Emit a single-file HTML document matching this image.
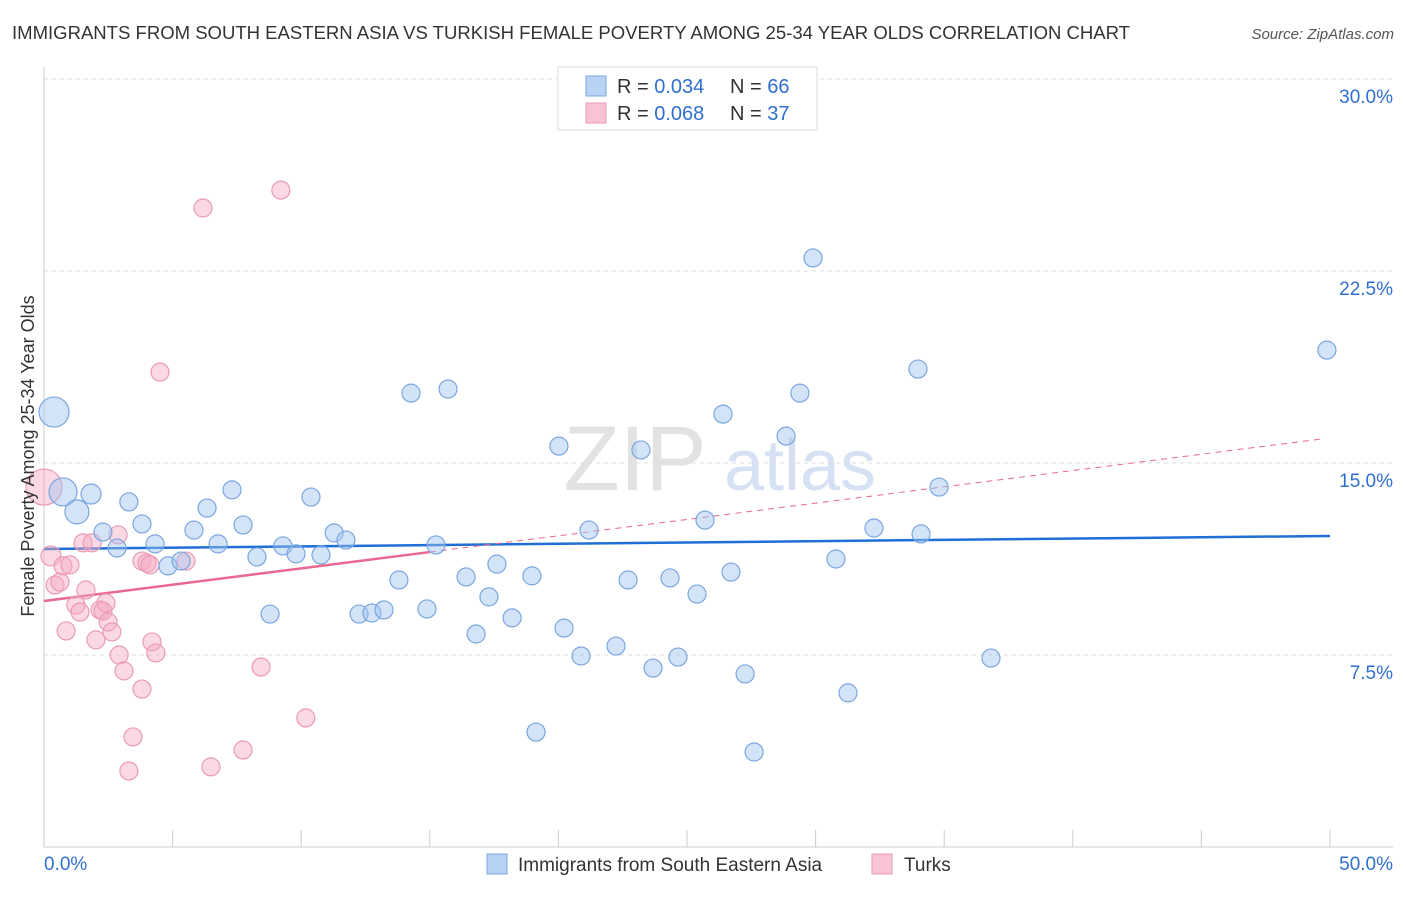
<!DOCTYPE html>
<html><head><meta charset="utf-8"><style>
body{margin:0;background:#fff;font-family:"Liberation Sans",sans-serif;}
svg text{font-family:"Liberation Sans",sans-serif;}
</style></head><body>
<svg id="c" width="1406" height="892" xmlns="http://www.w3.org/2000/svg">
<text x="12" y="39" font-size="18.5" fill="#333" textLength="1118" lengthAdjust="spacingAndGlyphs">IMMIGRANTS FROM SOUTH EASTERN ASIA VS TURKISH FEMALE POVERTY AMONG 25-34 YEAR OLDS CORRELATION CHART</text>
<text x="1394" y="39" font-size="15" fill="#555" font-style="italic" text-anchor="end">Source: ZipAtlas.com</text>
<g><text x="635" y="490" font-size="92" fill="#e2e2e2" text-anchor="middle" font-family="Liberation Serif,serif">ZIP</text><text x="800" y="490" font-size="72" fill="#d6e2f3" text-anchor="middle">atlas</text></g>
<g id="grid"></g><g id="axes"></g><g id="lines"></g><g id="pts"></g>
<text transform="translate(34,456) rotate(-90)" font-size="18" fill="#333" text-anchor="middle">Female Poverty Among 25-34 Year Olds</text>
<g>
<rect x="558" y="67" width="259" height="63" fill="#fff" stroke="#ddd"/>
<rect x="586" y="76" width="20" height="20" fill="#b8d2f3" stroke="#7aa6e0"/>
<rect x="586" y="103" width="20" height="20" fill="#f8c4d4" stroke="#eb9ab2"/>
<text x="617" y="93" font-size="20" fill="#333">R = <tspan fill="#2f6fd0">0.034</tspan></text>
<text x="730" y="93" font-size="20" fill="#333">N = <tspan fill="#2f6fd0">66</tspan></text>
<text x="617" y="120" font-size="20" fill="#333">R = <tspan fill="#2f6fd0">0.068</tspan></text>
<text x="730" y="120" font-size="20" fill="#333">N = <tspan fill="#2f6fd0">37</tspan></text>
</g>
<g>
<rect x="487" y="854" width="20" height="20" fill="#b8d2f3" stroke="#7aa6e0"/>
<text x="518" y="871" font-size="19" fill="#333">Immigrants from South Eastern Asia</text>
<rect x="872" y="854" width="20" height="20" fill="#f8c4d4" stroke="#eb9ab2"/>
<text x="904" y="871" font-size="19" fill="#333">Turks</text>
</g>
</svg>
<script>
const blueX=[0.39,0.74,1.28,1.83,2.29,2.84,3.30,3.81,4.32,4.82,5.33,5.83,6.34,6.77,7.31,7.74,8.28,8.79,9.29,9.80,10.38,10.77,11.28,11.74,12.25,12.75,13.22,13.80,14.27,14.89,15.24,15.71,16.41,16.80,17.30,17.61,18.20,18.97,20.02,20.22,20.88,21.19,22.24,22.71,23.21,23.68,24.34,24.65,25.39,25.70,26.40,26.71,27.26,27.61,28.85,29.39,29.90,30.79,31.26,32.27,33.98,34.10,34.80,36.82,49.88,19.13];
const blueY=[16.99,13.87,13.09,13.79,12.30,11.68,13.48,12.62,11.84,10.98,11.17,12.38,13.24,11.84,13.95,12.58,11.33,9.10,11.76,11.45,13.67,11.41,12.27,11.99,9.10,9.14,9.26,10.43,17.73,9.30,11.80,17.89,10.55,8.32,9.77,11.05,8.95,10.59,15.66,8.55,7.46,12.38,7.85,10.43,15.51,6.99,10.51,7.42,9.88,12.77,16.91,10.74,6.76,3.71,16.05,17.73,23.01,11.25,6.02,12.46,18.67,12.23,14.06,7.38,19.41,4.49];
const blueW=[15,14,12,10];
const pinkX=[0,0.27,0.43,0.62,0.74,0.86,1.01,1.24,1.40,1.52,1.63,1.87,2.02,2.18,2.29,2.41,2.49,2.64,2.88,2.92,3.11,3.30,3.46,3.81,3.81,4.00,4.12,4.20,4.35,4.51,5.52,6.18,6.49,7.74,8.44,9.21,10.18];
const pinkY=[14.06,11.37,10.23,10.35,10.98,8.44,11.02,9.45,9.18,11.88,10.04,11.88,8.09,9.26,9.22,9.53,8.79,8.40,12.19,7.50,6.88,2.97,4.30,6.17,11.17,11.09,11.02,8.01,7.58,18.55,11.17,24.96,3.13,3.79,7.03,25.66,5.04];
const pinkW=[18,10];
const blueTrend=[11.64,12.15];
const pinkTrend=[9.61,15.98];
const yTicks=[7.5,15,22.5,30];
const yLabels=["7.5%","15.0%","22.5%","30.0%"];
const NS="http://www.w3.org/2000/svg";
const X=v=>44+v*25.72, Y=v=>847-v*25.6;
function mk(t,a,p){const e=document.createElementNS(NS,t);for(const k in a)e.setAttribute(k,a[k]);document.getElementById(p).appendChild(e);return e;}
yTicks.forEach((t,i)=>{
 const g=mk('line',{x1:44,x2:1393,y1:Y(t),y2:Y(t),stroke:'#ddd','stroke-dasharray':'4,4'},'grid');
 
 
 const l=mk('text',{x:1393,y:Y(t)+24,'font-size':19,fill:'#2f6fd0','text-anchor':'end'},'axes');
 l.textContent=yLabels[i];
 
 
});
const ax=mk('line',{x1:44,x2:44,y1:67,y2:847,stroke:'#ccc'},'axes');


const bx=mk('line',{x1:44,x2:1393,y1:847,y2:847,stroke:'#ccc'},'axes');


for(let v=0;v<=50;v+=5){const t=mk('line',{x1:X(v),x2:X(v),y1:830,y2:847,stroke:'#ccc'},'axes');
 
 }
[["0.0%",44,"start"],["50.0%",1393,"end"]].forEach(d=>{const t=mk('text',{x:d[1],y:870,'font-size':19,fill:'#2f6fd0','text-anchor':d[2]},'axes');t.textContent=d[0];
 
 });
function pts(xs,ys,ws,fill,stroke,name){xs.forEach((x,i)=>{const c=mk('circle',{cx:X(x),cy:Y(ys[i]),r:ws[i]||9,fill:fill,stroke:stroke,'stroke-width':1.2},'pts');
 
 });}
pts(pinkX,pinkY,pinkW,'rgba(245,170,195,0.45)','#eb9ab2','turks-point');
pts(blueX,blueY,blueW,'rgba(160,195,240,0.45)','#7aa6e0','sea-point');
const bl=mk('line',{x1:X(0),y1:Y(blueTrend[0]),x2:X(50),y2:Y(blueTrend[1]),stroke:'#1f6fd6','stroke-width':2.5},'lines');


const pk=v=>pinkTrend[0]+(pinkTrend[1]-pinkTrend[0])*v/50;
const ps=mk('line',{x1:X(0),y1:Y(pk(0)),x2:X(15),y2:Y(pk(15)),stroke:'#e8688f','stroke-width':2.5},'lines');


const pd=mk('line',{x1:X(15),y1:Y(pk(15)),x2:X(49.8),y2:Y(pk(49.8)),stroke:'#e8688f','stroke-width':1,'stroke-dasharray':'6,5'},'lines');


</script>
</body></html>
